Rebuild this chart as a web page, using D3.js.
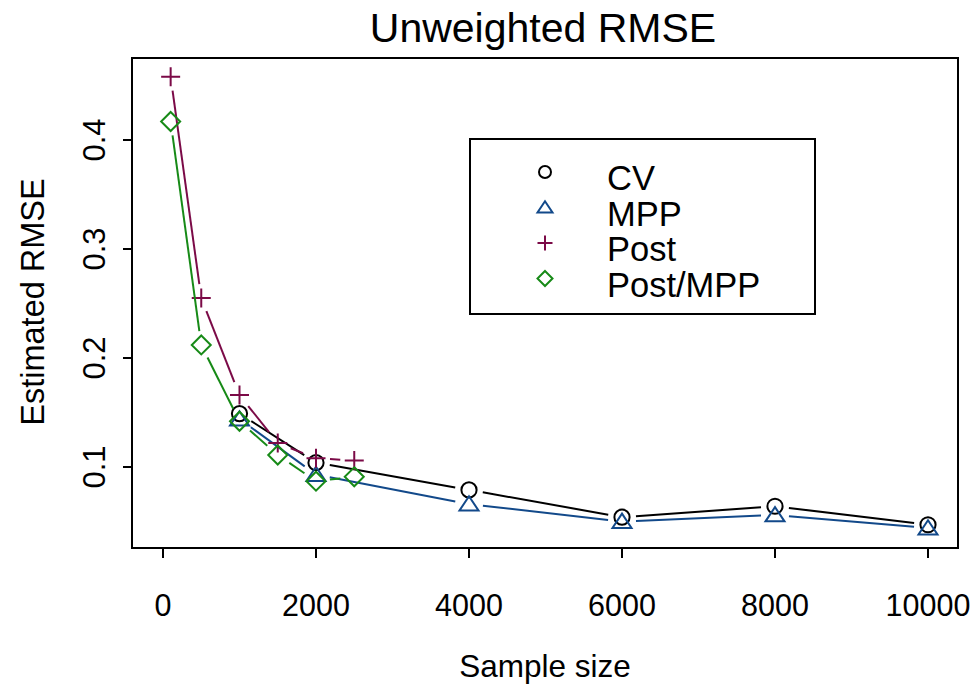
<!DOCTYPE html>
<html>
<head>
<meta charset="utf-8">
<script src="https://cdn.jsdelivr.net/npm/d3@7"></script>
<style>
  body { margin: 0; background: #fff; }
  svg { font-family: "Liberation Sans", Arial, sans-serif; }
</style>
</head>
<body>
<div id="chart"></div>
<script>
// data
var seriesNames = ["CV", "MPP", "Post", "Post/MPP"];
var cvN  = [1000, 2000, 4000, 6000, 8000, 10000];
var cvV  = [0.149, 0.104, 0.079, 0.054, 0.064, 0.047];
var mppN = [1000, 2000, 4000, 6000, 8000, 10000];
var mppV = [0.144, 0.093, 0.066, 0.050, 0.056, 0.044];
var postN = [100, 500, 1000, 1500, 2000, 2500];
var postV = [0.458, 0.255, 0.166, 0.122, 0.108, 0.106];
var pmN  = [100, 500, 1000, 1500, 2000, 2500];
var pmV  = [0.417, 0.212, 0.142, 0.111, 0.087, 0.091];
var xTicks = [0, 2000, 4000, 6000, 8000, 10000];
var yTicks = [0.1, 0.2, 0.3, 0.4];

var colors = ["#000000", "#12498a", "#7b0a47", "#178a17"];
var shapes = ["circle", "triangle", "plus", "diamond"];

var width = 977, height = 685;
var box = { left: 132, right: 958, top: 58, bottom: 548 };

var svg = d3.select("#chart").append("svg")
    .attr("width", width)
    .attr("height", height);

var x = d3.scaleLinear().domain([0, 10000]).range([163, 928]);
var y = d3.scaleLinear().domain([0.1, 0.4]).range([467, 140]);

// frame
svg.append("rect")
    .attr("x", box.left).attr("y", box.top)
    .attr("width", box.right - box.left).attr("height", box.bottom - box.top)
    .attr("fill", "none").attr("stroke", "#000").attr("stroke-width", 2);

// x axis
var xAxis = svg.append("g");
xAxis.selectAll("line").data(xTicks).enter().append("line")
    .attr("x1", function(d) { return x(d); }).attr("x2", function(d) { return x(d); })
    .attr("y1", box.bottom).attr("y2", box.bottom + 10)
    .attr("stroke", "#000").attr("stroke-width", 2);
xAxis.selectAll("text").data(xTicks).enter().append("text")
    .attr("x", function(d) { return x(d); })
    .attr("y", 616)
    .attr("text-anchor", "middle")
    .attr("font-size", "30.5px")
    .text(function(d) { return d; });

// y axis
var yAxis = svg.append("g");
yAxis.selectAll("line").data(yTicks).enter().append("line")
    .attr("x1", box.left - 9).attr("x2", box.left)
    .attr("y1", function(d) { return y(d); }).attr("y2", function(d) { return y(d); })
    .attr("stroke", "#000").attr("stroke-width", 2);
yAxis.selectAll("text").data(yTicks).enter().append("text")
    .attr("transform", function(d) { return "translate(105," + y(d) + ") rotate(-90)"; })
    .attr("text-anchor", "middle")
    .attr("font-size", "31px")
    .text(function(d) { return d3.format(".1f")(d); });

// titles
svg.append("text")
    .attr("x", 543).attr("y", 42)
    .attr("text-anchor", "middle")
    .attr("font-size", "41px")
    .text("Unweighted RMSE");
svg.append("text")
    .attr("x", 545).attr("y", 677)
    .attr("text-anchor", "middle")
    .attr("font-size", "31.5px")
    .text("Sample size");
svg.append("text")
    .attr("transform", "translate(44,302) rotate(-90)")
    .attr("text-anchor", "middle")
    .attr("font-size", "32.5px")
    .text("Estimated RMSE");

function drawMarker(g, shape, cx, cy, color, s) {
    if (shape === "circle") {
        g.append("circle").attr("cx", cx).attr("cy", cy).attr("r", s * 0.8)
            .attr("fill", "none").attr("stroke", color).attr("stroke-width", 2);
    } else if (shape === "triangle") {
        var h = s * 1.5;
        g.append("path")
            .attr("d", "M" + cx + "," + (cy - h * 0.55) + "L" + (cx + s) + "," + (cy + h * 0.45) +
                "L" + (cx - s) + "," + (cy + h * 0.45) + "Z")
            .attr("fill", "none").attr("stroke", color).attr("stroke-width", 2);
    } else if (shape === "plus") {
        g.append("path")
            .attr("d", "M" + (cx - s) + "," + cy + "H" + (cx + s) + "M" + cx + "," + (cy - s) + "V" + (cy + s))
            .attr("fill", "none").attr("stroke", color).attr("stroke-width", 2);
    } else {
        g.append("path")
            .attr("d", "M" + cx + "," + (cy - s) + "L" + (cx + s) + "," + cy + "L" + cx + "," + (cy + s) +
                "L" + (cx - s) + "," + cy + "Z")
            .attr("fill", "none").attr("stroke", color).attr("stroke-width", 2);
    }
}

var allN = [cvN, mppN, postN, pmN];
var allV = [cvV, mppV, postV, pmV];
var gap = 14;

allN.forEach(function(ns, k) {
    var g = svg.append("g");
    var pts = ns.map(function(n, i) { return [x(n), y(allV[k][i])]; });
    // lines with gaps round the points (type "b")
    for (var i = 0; i < pts.length - 1; i++) {
        var a = pts[i], b = pts[i + 1];
        var dx = b[0] - a[0], dy = b[1] - a[1];
        var len = Math.sqrt(dx * dx + dy * dy);
        if (len <= 2 * gap) continue;
        var ux = dx / len, uy = dy / len;
        g.append("line")
            .attr("x1", a[0] + ux * gap).attr("y1", a[1] + uy * gap)
            .attr("x2", b[0] - ux * gap).attr("y2", b[1] - uy * gap)
            .attr("stroke", colors[k]).attr("stroke-width", 2);
    }
    pts.forEach(function(p) { drawMarker(g, shapes[k], p[0], p[1], colors[k], 9.5); });
});

// legend
var leg = svg.append("g");
leg.append("rect")
    .attr("x", 470).attr("y", 139).attr("width", 345).attr("height", 175)
    .attr("fill", "none").attr("stroke", "#000").attr("stroke-width", 2);
seriesNames.forEach(function(name, k) {
    var cy = 172 + k * 35.5;
    drawMarker(leg, shapes[k], 545, cy, colors[k], 7.5);
    leg.append("text")
        .attr("x", 607).attr("y", cy + 18)
        .attr("font-size", "34.5px")
        .text(name);
});
</script>
</body>
</html>
